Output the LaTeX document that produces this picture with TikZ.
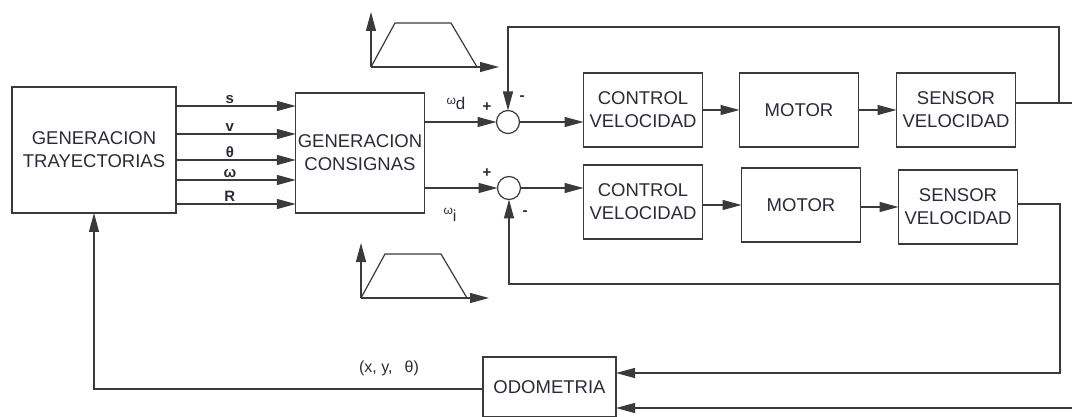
\documentclass[tikz,border=0pt]{standalone}
\usepackage{fontspec}
\setmainfont{Liberation Sans}
\usetikzlibrary{positioning,arrows.meta,calc}
\definecolor{ln}{HTML}{3A3A3A}
\definecolor{tx}{HTML}{2A2A38}

\begin{document}
\begin{tikzpicture}[x=1pt,y=-1pt,
  font=\fontsize{18.5}{23}\selectfont,
  box/.style={draw=ln,line width=1.2pt,align=center,inner sep=2pt,outer sep=0pt,text=tx,
              minimum width=119pt,minimum height=74pt},
  sum/.style={circle,draw=ln,line width=1.2pt,minimum size=23pt,inner sep=0pt,outer sep=0pt},
  a/.style={-{Triangle[length=19pt,width=10pt]},draw=ln,line width=1.2pt},
  l/.style={draw=ln,line width=1.2pt},
  lbl/.style={font=\fontsize{15}{15}\selectfont\bfseries,text=tx,inner sep=1pt},
  sg/.style={font=\fontsize{15}{15}\selectfont\bfseries,text=tx,inner sep=0pt}]
\useasboundingbox (0,0) rectangle (1072,417);
% generacion
\node[box,minimum width=164pt,minimum height=126pt] (traj) at (94,150) {GENERACION\\TRAYECTORIAS};
\node[box,minimum width=128pt,minimum height=120pt] (cons) at (360,153) {GENERACION\\CONSIGNAS};
\foreach \dy/\lab in {44/s,16/v,-10/θ,-30/ω,-54/R}
  \draw[a] ([yshift=\dy pt]traj.east) -- node[lbl,above=1pt,xshift=-6pt]{\lab} ([yshift=\dy pt]traj.east -| cons.west);
% perfiles de velocidad
\foreach \ox/\oy in {371/67,361/298}{
  \draw[a] (\ox,\oy) -- ++(0,-55);
  \draw[a] (\ox,\oy) -- ++(128,0);
  \draw[l] (\ox,\oy) -- ++(24,-44) -- ++(56,0) -- ++(26,44);
}
% sumadores
\node[sum] (s1) at (508,122) {};
\node[sum] (s2) at (509,188) {};
\node[text=tx,font=\fontsize{17}{17}\selectfont] (wd) at (456,103) {\raisebox{5pt}{\fontsize{12}{12}\selectfont ω}d};
\node[text=tx,font=\fontsize{16}{16}\selectfont] (wi) at (450,215) {{\fontsize{12}{12}\selectfont ω}\raisebox{-7pt}{i}};
\node[sg] (p1) at (487,107) {+};
\node[sg] (m1) at (522,98) {-};
\node[sg] (p2) at (487,173) {+};
\node[sg] (m2) at (525,213) {-};
% lazos de velocidad
\node[box] (ctl1) at (643,110) {CONTROL\\VELOCIDAD};
\node[box,right=37pt of ctl1] (mot1) {MOTOR};
\node[box,right=38pt of mot1] (sen1) {SENSOR\\VELOCIDAD};
\node[box] (ctl2) at (643,202) {CONTROL\\VELOCIDAD};
\node[box,right=39pt of ctl2,yshift=-3pt] (mot2) {MOTOR};
\node[box,right=38pt of mot2,yshift=-2pt] (sen2) {SENSOR\\VELOCIDAD};
\node[box,minimum width=133pt,minimum height=60pt] (odo) at (549.5,387) {ODOMETRIA};
\node[text=tx,font=\fontsize{16}{16}\selectfont] (xyt) at (389,368) {(x, y,\hspace{12pt}θ)};
\draw[a] (s1 -| cons.east) -- (s1);
\draw[a] (s2 -| cons.east) -- (s2);
\draw[a] (s1) -- (s1 -| ctl1.west);
\draw[a] (s2) -- (s2 -| ctl2.west);
\draw[a] (ctl1) -- (mot1);
\draw[a] (mot1) -- (sen1);
\draw[a] (ctl2.east |- mot2.west) -- (mot2.west);
\draw[a] (mot2.east |- sen2.west) -- (sen2.west);
% realimentacion
\coordinate (j1) at (1059,104);
\coordinate (top) at (1059,27);
\coordinate (j2) at (1060,204);
\coordinate (j3) at (1060,284);
\draw[a] ([yshift=7pt]sen1.east) -- ++(80,0) |- ([yshift=-21pt]odo.east);
\draw[a] (j1) -- (top) -| (s1);
\draw[a] (sen2.east |- j2) -- (j2) |- ([yshift=14pt]odo.east);
\draw[a] (j3) -| (s2);
\draw[a] ([yshift=-2pt]odo.west) -| (traj.south);
\end{tikzpicture}
\end{document}
